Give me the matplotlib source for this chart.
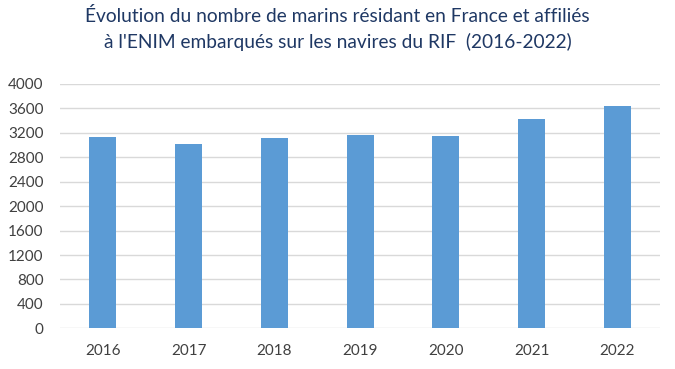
import matplotlib.pyplot as plt
import numpy as np

years = ["2016", "2017", "2018", "2019", "2020", "2021", "2022"]
marins = [3133, 3019, 3107, 3166, 3145, 3428, 3640]
yticks = [0, 400, 800, 1200, 1600, 2000, 2400, 2800, 3200, 3600, 4000]

plt.rcParams["font.family"] = ["Lato", "DejaVu Sans"]

fig = plt.figure(figsize=(6.75, 3.69), dpi=100)
ax = fig.add_axes([0.089, 0.110, 0.889, 0.663])

x = np.arange(len(years))
ax.bar(x, marins, width=0.315, color="#5b9bd5", zorder=3)

ax.set_xlim(-0.5, len(years) - 0.5)
ax.set_ylim(0, 4000)
ax.set_yticks(yticks)
ax.set_xticks(x)
ax.set_xticklabels(years)
ax.grid(axis="y", color="#d9d9d9", linewidth=1, zorder=0)
for s in ax.spines.values():
    s.set_visible(False)
ax.tick_params(axis="both", length=0, labelsize=11, colors="#404040")
ax.tick_params(axis="y", pad=12)
ax.tick_params(axis="x", pad=11)

fig.text(0.5, 0.98, "Évolution du nombre de marins résidant en France et affiliés\n"
         "à l'ENIM embarqués sur les navires du RIF  (2016-2022)",
         ha="center", va="top", fontsize=13.8, color="#1f3864", linespacing=1.5)

plt.savefig("out.png", dpi=100)
